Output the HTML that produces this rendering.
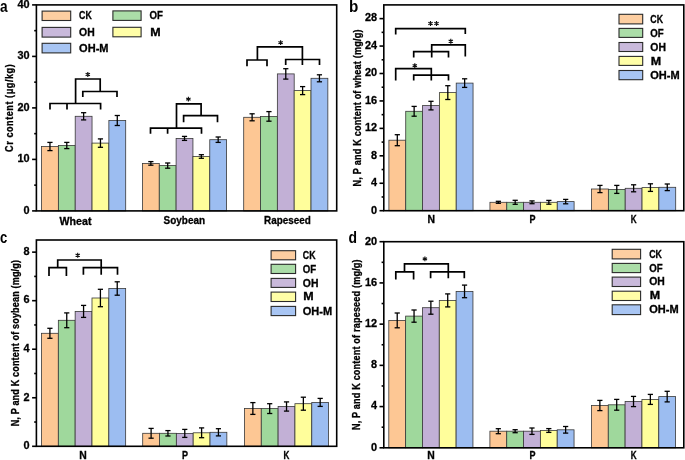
<!DOCTYPE html><html><head><meta charset="utf-8"><style>html,body{margin:0;padding:0;background:#fff;}svg{display:block;will-change:transform;}text{font-family:"Liberation Sans",sans-serif;font-weight:bold;fill:#000;stroke:#000;stroke-width:0.3px;}</style></head><body>
<svg width="685" height="460" viewBox="0 0 685 460">
<rect width="685" height="460" fill="#fff"/>
<g>
<rect x="41.55" y="146.50" width="16.83" height="64.40" fill="#FDC794" stroke="#383838" stroke-width="0.8"/>
<rect x="58.38" y="145.50" width="16.83" height="65.40" fill="#9FD89C" stroke="#383838" stroke-width="0.8"/>
<rect x="75.21" y="116.30" width="16.83" height="94.60" fill="#C2B0D6" stroke="#383838" stroke-width="0.8"/>
<rect x="92.04" y="143.10" width="16.83" height="67.80" fill="#FFFE9B" stroke="#383838" stroke-width="0.8"/>
<rect x="108.87" y="120.50" width="16.83" height="90.40" fill="#9CBDF1" stroke="#383838" stroke-width="0.8"/>
<line x1="49.96" y1="142.40" x2="49.96" y2="150.60" stroke="#000" stroke-width="1.3"/>
<line x1="47.36" y1="142.40" x2="52.56" y2="142.40" stroke="#000" stroke-width="1.3"/>
<line x1="47.36" y1="150.60" x2="52.56" y2="150.60" stroke="#000" stroke-width="1.3"/>
<line x1="66.79" y1="142.40" x2="66.79" y2="148.60" stroke="#000" stroke-width="1.3"/>
<line x1="64.19" y1="142.40" x2="69.39" y2="142.40" stroke="#000" stroke-width="1.3"/>
<line x1="64.19" y1="148.60" x2="69.39" y2="148.60" stroke="#000" stroke-width="1.3"/>
<line x1="83.62" y1="112.70" x2="83.62" y2="119.90" stroke="#000" stroke-width="1.3"/>
<line x1="81.03" y1="112.70" x2="86.22" y2="112.70" stroke="#000" stroke-width="1.3"/>
<line x1="81.03" y1="119.90" x2="86.22" y2="119.90" stroke="#000" stroke-width="1.3"/>
<line x1="100.45" y1="138.90" x2="100.45" y2="147.30" stroke="#000" stroke-width="1.3"/>
<line x1="97.85" y1="138.90" x2="103.05" y2="138.90" stroke="#000" stroke-width="1.3"/>
<line x1="97.85" y1="147.30" x2="103.05" y2="147.30" stroke="#000" stroke-width="1.3"/>
<line x1="117.28" y1="115.50" x2="117.28" y2="125.50" stroke="#000" stroke-width="1.3"/>
<line x1="114.69" y1="115.50" x2="119.88" y2="115.50" stroke="#000" stroke-width="1.3"/>
<line x1="114.69" y1="125.50" x2="119.88" y2="125.50" stroke="#000" stroke-width="1.3"/>
<rect x="142.45" y="163.40" width="16.83" height="47.50" fill="#FDC794" stroke="#383838" stroke-width="0.8"/>
<rect x="159.28" y="165.60" width="16.83" height="45.30" fill="#9FD89C" stroke="#383838" stroke-width="0.8"/>
<rect x="176.11" y="138.40" width="16.83" height="72.50" fill="#C2B0D6" stroke="#383838" stroke-width="0.8"/>
<rect x="192.94" y="156.50" width="16.83" height="54.40" fill="#FFFE9B" stroke="#383838" stroke-width="0.8"/>
<rect x="209.77" y="139.70" width="16.83" height="71.20" fill="#9CBDF1" stroke="#383838" stroke-width="0.8"/>
<line x1="150.86" y1="161.60" x2="150.86" y2="165.20" stroke="#000" stroke-width="1.3"/>
<line x1="148.26" y1="161.60" x2="153.46" y2="161.60" stroke="#000" stroke-width="1.3"/>
<line x1="148.26" y1="165.20" x2="153.46" y2="165.20" stroke="#000" stroke-width="1.3"/>
<line x1="167.69" y1="163.00" x2="167.69" y2="168.20" stroke="#000" stroke-width="1.3"/>
<line x1="165.09" y1="163.00" x2="170.29" y2="163.00" stroke="#000" stroke-width="1.3"/>
<line x1="165.09" y1="168.20" x2="170.29" y2="168.20" stroke="#000" stroke-width="1.3"/>
<line x1="184.52" y1="136.40" x2="184.52" y2="140.40" stroke="#000" stroke-width="1.3"/>
<line x1="181.92" y1="136.40" x2="187.12" y2="136.40" stroke="#000" stroke-width="1.3"/>
<line x1="181.92" y1="140.40" x2="187.12" y2="140.40" stroke="#000" stroke-width="1.3"/>
<line x1="201.35" y1="154.70" x2="201.35" y2="158.30" stroke="#000" stroke-width="1.3"/>
<line x1="198.75" y1="154.70" x2="203.95" y2="154.70" stroke="#000" stroke-width="1.3"/>
<line x1="198.75" y1="158.30" x2="203.95" y2="158.30" stroke="#000" stroke-width="1.3"/>
<line x1="218.18" y1="137.00" x2="218.18" y2="142.40" stroke="#000" stroke-width="1.3"/>
<line x1="215.58" y1="137.00" x2="220.78" y2="137.00" stroke="#000" stroke-width="1.3"/>
<line x1="215.58" y1="142.40" x2="220.78" y2="142.40" stroke="#000" stroke-width="1.3"/>
<rect x="243.70" y="117.30" width="16.83" height="93.60" fill="#FDC794" stroke="#383838" stroke-width="0.8"/>
<rect x="260.53" y="116.40" width="16.83" height="94.50" fill="#9FD89C" stroke="#383838" stroke-width="0.8"/>
<rect x="277.36" y="73.90" width="16.83" height="137.00" fill="#C2B0D6" stroke="#383838" stroke-width="0.8"/>
<rect x="294.19" y="90.60" width="16.83" height="120.30" fill="#FFFE9B" stroke="#383838" stroke-width="0.8"/>
<rect x="311.02" y="78.30" width="16.83" height="132.60" fill="#9CBDF1" stroke="#383838" stroke-width="0.8"/>
<line x1="252.11" y1="113.80" x2="252.11" y2="120.80" stroke="#000" stroke-width="1.3"/>
<line x1="249.51" y1="113.80" x2="254.71" y2="113.80" stroke="#000" stroke-width="1.3"/>
<line x1="249.51" y1="120.80" x2="254.71" y2="120.80" stroke="#000" stroke-width="1.3"/>
<line x1="268.94" y1="111.60" x2="268.94" y2="121.20" stroke="#000" stroke-width="1.3"/>
<line x1="266.34" y1="111.60" x2="271.55" y2="111.60" stroke="#000" stroke-width="1.3"/>
<line x1="266.34" y1="121.20" x2="271.55" y2="121.20" stroke="#000" stroke-width="1.3"/>
<line x1="285.78" y1="68.70" x2="285.78" y2="79.10" stroke="#000" stroke-width="1.3"/>
<line x1="283.18" y1="68.70" x2="288.38" y2="68.70" stroke="#000" stroke-width="1.3"/>
<line x1="283.18" y1="79.10" x2="288.38" y2="79.10" stroke="#000" stroke-width="1.3"/>
<line x1="302.61" y1="86.60" x2="302.61" y2="94.60" stroke="#000" stroke-width="1.3"/>
<line x1="300.00" y1="86.60" x2="305.21" y2="86.60" stroke="#000" stroke-width="1.3"/>
<line x1="300.00" y1="94.60" x2="305.21" y2="94.60" stroke="#000" stroke-width="1.3"/>
<line x1="319.44" y1="74.80" x2="319.44" y2="81.80" stroke="#000" stroke-width="1.3"/>
<line x1="316.83" y1="74.80" x2="322.04" y2="74.80" stroke="#000" stroke-width="1.3"/>
<line x1="316.83" y1="81.80" x2="322.04" y2="81.80" stroke="#000" stroke-width="1.3"/>
<rect x="36.40" y="4.90" width="300.30" height="206.00" fill="none" stroke="#000" stroke-width="1.6"/>
<line x1="32.10" y1="210.90" x2="36.40" y2="210.90" stroke="#000" stroke-width="1.6"/>
<text x="29.60" y="213.70" font-size="10.9" text-anchor="end">0</text>
<line x1="32.10" y1="159.40" x2="36.40" y2="159.40" stroke="#000" stroke-width="1.6"/>
<text x="29.60" y="162.20" font-size="10.9" text-anchor="end">10</text>
<line x1="32.10" y1="107.90" x2="36.40" y2="107.90" stroke="#000" stroke-width="1.6"/>
<text x="29.60" y="110.70" font-size="10.9" text-anchor="end">20</text>
<line x1="32.10" y1="56.40" x2="36.40" y2="56.40" stroke="#000" stroke-width="1.6"/>
<text x="29.60" y="59.20" font-size="10.9" text-anchor="end">30</text>
<line x1="32.10" y1="4.90" x2="36.40" y2="4.90" stroke="#000" stroke-width="1.6"/>
<text x="29.60" y="7.70" font-size="10.9" text-anchor="end">40</text>
<line x1="34.20" y1="185.15" x2="36.40" y2="185.15" stroke="#000" stroke-width="1.6"/>
<line x1="34.20" y1="133.65" x2="36.40" y2="133.65" stroke="#000" stroke-width="1.6"/>
<line x1="34.20" y1="82.15" x2="36.40" y2="82.15" stroke="#000" stroke-width="1.6"/>
<line x1="34.20" y1="30.65" x2="36.40" y2="30.65" stroke="#000" stroke-width="1.6"/>
<path d="M50,109.6 V103.5 H100.6 V109.6 M67,103.5 V109.6 M75.6,103.5 V79 H100.2 V91.5 M82.8,97 V91.5 H117 V97" fill="none" stroke="#000" stroke-width="1.7" stroke-linecap="butt" stroke-linejoin="miter"/>
<path d="M87.80,72.05 V76.95 M85.64,73.28 L89.96,75.72 M85.64,75.72 L89.96,73.28 " stroke="#111" stroke-width="1.15" fill="none"/>
<path d="M150.5,133.8 V128.1 H201.5 V133.8 M167.6,128.1 V133.8 M176.5,128.1 V103.9 H201.1 V115.7 M183.6,122.3 V115.7 H217.5 V122.3" fill="none" stroke="#000" stroke-width="1.7" stroke-linecap="butt" stroke-linejoin="miter"/>
<path d="M188.40,96.65 V101.55 M186.24,97.88 L190.56,100.32 M186.24,100.32 L190.56,97.88 " stroke="#111" stroke-width="1.15" fill="none"/>
<path d="M247,66.3 V60 H267 V66.3 M257.4,60 V46.8 H302.4 V65 M285.7,65 V59.5 H319.5 V65" fill="none" stroke="#000" stroke-width="1.7" stroke-linecap="butt" stroke-linejoin="miter"/>
<path d="M280.60,40.15 V45.05 M278.44,41.38 L282.76,43.83 M278.44,43.83 L282.76,41.38 " stroke="#111" stroke-width="1.15" fill="none"/>
<rect x="42.10" y="11.10" width="28.60" height="9.40" fill="#FDCEA1" stroke="#2a2a2a" stroke-width="1.1"/>
<text x="79.10" y="19.40" font-size="10.4" text-anchor="start" textLength="12.70" lengthAdjust="spacingAndGlyphs">CK</text>
<rect x="42.10" y="27.40" width="28.60" height="9.70" fill="#C9B9DB" stroke="#2a2a2a" stroke-width="1.1"/>
<text x="79.10" y="35.85" font-size="10.4" text-anchor="start" textLength="15.60" lengthAdjust="spacingAndGlyphs">OH</text>
<rect x="42.10" y="43.30" width="28.60" height="9.60" fill="#A8C5F3" stroke="#2a2a2a" stroke-width="1.1"/>
<text x="79.10" y="51.70" font-size="10.4" text-anchor="start" textLength="29.40" lengthAdjust="spacingAndGlyphs">OH-M</text>
<rect x="112.9" y="10.9" width="28.2" height="9.5" fill="#ABDDA8" stroke="#2a2a2a" stroke-width="1.1"/>
<text x="149.60" y="19.25" font-size="10.4" text-anchor="start" textLength="13.40" lengthAdjust="spacingAndGlyphs">OF</text>
<rect x="112.9" y="27.3" width="28.2" height="9.5" fill="#FFFEA7" stroke="#2a2a2a" stroke-width="1.1"/>
<text x="150.20" y="35.65" font-size="10.4" text-anchor="start" textLength="10.40" lengthAdjust="spacingAndGlyphs">M</text>
<text x="75.50" y="224.80" font-size="10.4" text-anchor="middle" textLength="31.90" lengthAdjust="spacingAndGlyphs">Wheat</text>
<text x="184.30" y="223.90" font-size="10.4" text-anchor="middle" textLength="41.50" lengthAdjust="spacingAndGlyphs">Soybean</text>
<text x="287.40" y="223.90" font-size="10.4" text-anchor="middle" textLength="46.70" lengthAdjust="spacingAndGlyphs">Rapeseed</text>
<text transform="translate(13.2,108.1) rotate(-90) scale(0.87,1)" font-size="10.4" text-anchor="middle" textLength="100.69" lengthAdjust="spacing">Cr content (μg/kg)</text>
<text x="0.00" y="11.80" font-size="16.4" text-anchor="start" textLength="7.60" lengthAdjust="spacingAndGlyphs" style="stroke-width:0">a</text>
<rect x="388.90" y="140.20" width="16.83" height="70.50" fill="#FDC794" stroke="#383838" stroke-width="0.8"/>
<rect x="405.73" y="111.30" width="16.83" height="99.40" fill="#9FD89C" stroke="#383838" stroke-width="0.8"/>
<rect x="422.56" y="105.60" width="16.83" height="105.10" fill="#C2B0D6" stroke="#383838" stroke-width="0.8"/>
<rect x="439.39" y="92.60" width="16.83" height="118.10" fill="#FFFE9B" stroke="#383838" stroke-width="0.8"/>
<rect x="456.22" y="83.10" width="16.83" height="127.60" fill="#9CBDF1" stroke="#383838" stroke-width="0.8"/>
<line x1="397.31" y1="134.70" x2="397.31" y2="145.70" stroke="#000" stroke-width="1.3"/>
<line x1="394.71" y1="134.70" x2="399.92" y2="134.70" stroke="#000" stroke-width="1.3"/>
<line x1="394.71" y1="145.70" x2="399.92" y2="145.70" stroke="#000" stroke-width="1.3"/>
<line x1="414.14" y1="106.40" x2="414.14" y2="116.20" stroke="#000" stroke-width="1.3"/>
<line x1="411.54" y1="106.40" x2="416.75" y2="106.40" stroke="#000" stroke-width="1.3"/>
<line x1="411.54" y1="116.20" x2="416.75" y2="116.20" stroke="#000" stroke-width="1.3"/>
<line x1="430.97" y1="101.30" x2="430.97" y2="109.90" stroke="#000" stroke-width="1.3"/>
<line x1="428.37" y1="101.30" x2="433.57" y2="101.30" stroke="#000" stroke-width="1.3"/>
<line x1="428.37" y1="109.90" x2="433.57" y2="109.90" stroke="#000" stroke-width="1.3"/>
<line x1="447.81" y1="85.70" x2="447.81" y2="99.50" stroke="#000" stroke-width="1.3"/>
<line x1="445.20" y1="85.70" x2="450.41" y2="85.70" stroke="#000" stroke-width="1.3"/>
<line x1="445.20" y1="99.50" x2="450.41" y2="99.50" stroke="#000" stroke-width="1.3"/>
<line x1="464.63" y1="78.80" x2="464.63" y2="87.40" stroke="#000" stroke-width="1.3"/>
<line x1="462.03" y1="78.80" x2="467.24" y2="78.80" stroke="#000" stroke-width="1.3"/>
<line x1="462.03" y1="87.40" x2="467.24" y2="87.40" stroke="#000" stroke-width="1.3"/>
<rect x="489.95" y="202.30" width="16.83" height="8.40" fill="#FDC794" stroke="#383838" stroke-width="0.8"/>
<rect x="506.78" y="202.30" width="16.83" height="8.40" fill="#9FD89C" stroke="#383838" stroke-width="0.8"/>
<rect x="523.61" y="202.30" width="16.83" height="8.40" fill="#C2B0D6" stroke="#383838" stroke-width="0.8"/>
<rect x="540.44" y="202.30" width="16.83" height="8.40" fill="#FFFE9B" stroke="#383838" stroke-width="0.8"/>
<rect x="557.27" y="201.60" width="16.83" height="9.10" fill="#9CBDF1" stroke="#383838" stroke-width="0.8"/>
<line x1="498.37" y1="201.30" x2="498.37" y2="203.30" stroke="#000" stroke-width="1.3"/>
<line x1="495.76" y1="201.30" x2="500.97" y2="201.30" stroke="#000" stroke-width="1.3"/>
<line x1="495.76" y1="203.30" x2="500.97" y2="203.30" stroke="#000" stroke-width="1.3"/>
<line x1="515.19" y1="200.30" x2="515.19" y2="204.30" stroke="#000" stroke-width="1.3"/>
<line x1="512.59" y1="200.30" x2="517.79" y2="200.30" stroke="#000" stroke-width="1.3"/>
<line x1="512.59" y1="204.30" x2="517.79" y2="204.30" stroke="#000" stroke-width="1.3"/>
<line x1="532.02" y1="200.90" x2="532.02" y2="203.70" stroke="#000" stroke-width="1.3"/>
<line x1="529.42" y1="200.90" x2="534.62" y2="200.90" stroke="#000" stroke-width="1.3"/>
<line x1="529.42" y1="203.70" x2="534.62" y2="203.70" stroke="#000" stroke-width="1.3"/>
<line x1="548.85" y1="200.40" x2="548.85" y2="204.20" stroke="#000" stroke-width="1.3"/>
<line x1="546.25" y1="200.40" x2="551.45" y2="200.40" stroke="#000" stroke-width="1.3"/>
<line x1="546.25" y1="204.20" x2="551.45" y2="204.20" stroke="#000" stroke-width="1.3"/>
<line x1="565.68" y1="199.40" x2="565.68" y2="203.80" stroke="#000" stroke-width="1.3"/>
<line x1="563.08" y1="199.40" x2="568.28" y2="199.40" stroke="#000" stroke-width="1.3"/>
<line x1="563.08" y1="203.80" x2="568.28" y2="203.80" stroke="#000" stroke-width="1.3"/>
<rect x="591.55" y="189.00" width="16.83" height="21.70" fill="#FDC794" stroke="#383838" stroke-width="0.8"/>
<rect x="608.38" y="189.40" width="16.83" height="21.30" fill="#9FD89C" stroke="#383838" stroke-width="0.8"/>
<rect x="625.21" y="188.30" width="16.83" height="22.40" fill="#C2B0D6" stroke="#383838" stroke-width="0.8"/>
<rect x="642.04" y="187.60" width="16.83" height="23.10" fill="#FFFE9B" stroke="#383838" stroke-width="0.8"/>
<rect x="658.87" y="187.30" width="16.83" height="23.40" fill="#9CBDF1" stroke="#383838" stroke-width="0.8"/>
<line x1="599.96" y1="185.40" x2="599.96" y2="192.60" stroke="#000" stroke-width="1.3"/>
<line x1="597.36" y1="185.40" x2="602.56" y2="185.40" stroke="#000" stroke-width="1.3"/>
<line x1="597.36" y1="192.60" x2="602.56" y2="192.60" stroke="#000" stroke-width="1.3"/>
<line x1="616.79" y1="185.40" x2="616.79" y2="193.40" stroke="#000" stroke-width="1.3"/>
<line x1="614.19" y1="185.40" x2="619.39" y2="185.40" stroke="#000" stroke-width="1.3"/>
<line x1="614.19" y1="193.40" x2="619.39" y2="193.40" stroke="#000" stroke-width="1.3"/>
<line x1="633.62" y1="184.80" x2="633.62" y2="191.80" stroke="#000" stroke-width="1.3"/>
<line x1="631.02" y1="184.80" x2="636.22" y2="184.80" stroke="#000" stroke-width="1.3"/>
<line x1="631.02" y1="191.80" x2="636.22" y2="191.80" stroke="#000" stroke-width="1.3"/>
<line x1="650.45" y1="183.80" x2="650.45" y2="191.40" stroke="#000" stroke-width="1.3"/>
<line x1="647.85" y1="183.80" x2="653.05" y2="183.80" stroke="#000" stroke-width="1.3"/>
<line x1="647.85" y1="191.40" x2="653.05" y2="191.40" stroke="#000" stroke-width="1.3"/>
<line x1="667.28" y1="184.00" x2="667.28" y2="190.60" stroke="#000" stroke-width="1.3"/>
<line x1="664.68" y1="184.00" x2="669.88" y2="184.00" stroke="#000" stroke-width="1.3"/>
<line x1="664.68" y1="190.60" x2="669.88" y2="190.60" stroke="#000" stroke-width="1.3"/>
<rect x="383.80" y="4.90" width="300.00" height="205.80" fill="none" stroke="#000" stroke-width="1.6"/>
<line x1="379.50" y1="210.70" x2="383.80" y2="210.70" stroke="#000" stroke-width="1.6"/>
<text x="377.00" y="213.50" font-size="10.9" text-anchor="end">0</text>
<line x1="379.50" y1="183.26" x2="383.80" y2="183.26" stroke="#000" stroke-width="1.6"/>
<text x="377.00" y="186.06" font-size="10.9" text-anchor="end">4</text>
<line x1="379.50" y1="155.82" x2="383.80" y2="155.82" stroke="#000" stroke-width="1.6"/>
<text x="377.00" y="158.62" font-size="10.9" text-anchor="end">8</text>
<line x1="379.50" y1="128.38" x2="383.80" y2="128.38" stroke="#000" stroke-width="1.6"/>
<text x="377.00" y="131.18" font-size="10.9" text-anchor="end">12</text>
<line x1="379.50" y1="100.94" x2="383.80" y2="100.94" stroke="#000" stroke-width="1.6"/>
<text x="377.00" y="103.74" font-size="10.9" text-anchor="end">16</text>
<line x1="379.50" y1="73.50" x2="383.80" y2="73.50" stroke="#000" stroke-width="1.6"/>
<text x="377.00" y="76.30" font-size="10.9" text-anchor="end">20</text>
<line x1="379.50" y1="46.06" x2="383.80" y2="46.06" stroke="#000" stroke-width="1.6"/>
<text x="377.00" y="48.86" font-size="10.9" text-anchor="end">24</text>
<line x1="379.50" y1="18.62" x2="383.80" y2="18.62" stroke="#000" stroke-width="1.6"/>
<text x="377.00" y="21.42" font-size="10.9" text-anchor="end">28</text>
<line x1="381.60" y1="196.98" x2="383.80" y2="196.98" stroke="#000" stroke-width="1.6"/>
<line x1="381.60" y1="169.54" x2="383.80" y2="169.54" stroke="#000" stroke-width="1.6"/>
<line x1="381.60" y1="142.10" x2="383.80" y2="142.10" stroke="#000" stroke-width="1.6"/>
<line x1="381.60" y1="114.66" x2="383.80" y2="114.66" stroke="#000" stroke-width="1.6"/>
<line x1="381.60" y1="87.22" x2="383.80" y2="87.22" stroke="#000" stroke-width="1.6"/>
<line x1="381.60" y1="59.78" x2="383.80" y2="59.78" stroke="#000" stroke-width="1.6"/>
<line x1="381.60" y1="32.34" x2="383.80" y2="32.34" stroke="#000" stroke-width="1.6"/>
<path d="M395.7,34.5 V28.6 H465.3 V34" fill="none" stroke="#000" stroke-width="1.7" stroke-linecap="butt" stroke-linejoin="miter"/>
<path d="M430.50,21.05 V25.95 M428.34,22.27 L432.66,24.73 M428.34,24.73 L432.66,22.27 " stroke="#111" stroke-width="1.15" fill="none"/>
<path d="M436.50,21.05 V25.95 M434.34,22.27 L438.66,24.73 M434.34,24.73 L438.66,22.27 " stroke="#111" stroke-width="1.15" fill="none"/>
<path d="M431.7,57.4 V44.8 H465.3 V56.6 M413.7,57.4 V51.7 H448.5 V57.4" fill="none" stroke="#000" stroke-width="1.7" stroke-linecap="butt" stroke-linejoin="miter"/>
<path d="M450.80,38.85 V43.75 M448.64,40.07 L452.96,42.52 M448.64,42.52 L452.96,40.07 " stroke="#111" stroke-width="1.15" fill="none"/>
<path d="M395.7,80.5 V68.7 H431.3 V80.5 M413.7,80.5 V75.2 H448.5 V80.5" fill="none" stroke="#000" stroke-width="1.7" stroke-linecap="butt" stroke-linejoin="miter"/>
<path d="M414.80,63.15 V68.05 M412.64,64.38 L416.96,66.82 M412.64,66.82 L416.96,64.38 " stroke="#111" stroke-width="1.15" fill="none"/>
<rect x="619.00" y="14.30" width="23.70" height="9.60" fill="#FDCEA1" stroke="#2a2a2a" stroke-width="1.1"/>
<text x="650.30" y="22.70" font-size="10.4" text-anchor="start" textLength="12.70" lengthAdjust="spacingAndGlyphs">CK</text>
<rect x="619.00" y="28.40" width="23.70" height="9.00" fill="#ABDDA8" stroke="#2a2a2a" stroke-width="1.1"/>
<text x="650.30" y="36.50" font-size="10.4" text-anchor="start" textLength="13.40" lengthAdjust="spacingAndGlyphs">OF</text>
<rect x="619.00" y="42.50" width="23.70" height="9.00" fill="#C9B9DB" stroke="#2a2a2a" stroke-width="1.1"/>
<text x="650.30" y="50.60" font-size="10.4" text-anchor="start" textLength="15.60" lengthAdjust="spacingAndGlyphs">OH</text>
<rect x="619.00" y="56.40" width="23.70" height="9.00" fill="#FFFEA7" stroke="#2a2a2a" stroke-width="1.1"/>
<text x="650.80" y="64.50" font-size="10.4" text-anchor="start" textLength="10.40" lengthAdjust="spacingAndGlyphs">M</text>
<rect x="619.00" y="70.50" width="23.70" height="9.20" fill="#A8C5F3" stroke="#2a2a2a" stroke-width="1.1"/>
<text x="650.30" y="78.70" font-size="10.4" text-anchor="start" textLength="29.40" lengthAdjust="spacingAndGlyphs">OH-M</text>
<text x="431.20" y="222.60" font-size="10.4" text-anchor="middle">N</text>
<text x="532.50" y="222.60" font-size="10.4" text-anchor="middle" textLength="6.00" lengthAdjust="spacingAndGlyphs">P</text>
<text x="633.70" y="222.60" font-size="10.4" text-anchor="middle" textLength="5.90" lengthAdjust="spacingAndGlyphs">K</text>
<text transform="translate(360.6,107.9) rotate(-90) scale(0.87,1)" font-size="10.4" text-anchor="middle" textLength="180.46" lengthAdjust="spacing">N, P and K content of wheat (mg/g)</text>
<text x="349.00" y="11.80" font-size="16.4" text-anchor="start" textLength="9.30" lengthAdjust="spacingAndGlyphs" style="stroke-width:0">b</text>
<rect x="41.50" y="333.30" width="16.83" height="113.00" fill="#FDC794" stroke="#383838" stroke-width="0.8"/>
<rect x="58.33" y="320.30" width="16.83" height="126.00" fill="#9FD89C" stroke="#383838" stroke-width="0.8"/>
<rect x="75.16" y="311.40" width="16.83" height="134.90" fill="#C2B0D6" stroke="#383838" stroke-width="0.8"/>
<rect x="91.99" y="298.00" width="16.83" height="148.30" fill="#FFFE9B" stroke="#383838" stroke-width="0.8"/>
<rect x="108.82" y="288.50" width="16.83" height="157.80" fill="#9CBDF1" stroke="#383838" stroke-width="0.8"/>
<line x1="49.91" y1="328.30" x2="49.91" y2="338.30" stroke="#000" stroke-width="1.3"/>
<line x1="47.31" y1="328.30" x2="52.52" y2="328.30" stroke="#000" stroke-width="1.3"/>
<line x1="47.31" y1="338.30" x2="52.52" y2="338.30" stroke="#000" stroke-width="1.3"/>
<line x1="66.75" y1="312.90" x2="66.75" y2="327.70" stroke="#000" stroke-width="1.3"/>
<line x1="64.15" y1="312.90" x2="69.34" y2="312.90" stroke="#000" stroke-width="1.3"/>
<line x1="64.15" y1="327.70" x2="69.34" y2="327.70" stroke="#000" stroke-width="1.3"/>
<line x1="83.57" y1="305.40" x2="83.57" y2="317.40" stroke="#000" stroke-width="1.3"/>
<line x1="80.97" y1="305.40" x2="86.17" y2="305.40" stroke="#000" stroke-width="1.3"/>
<line x1="80.97" y1="317.40" x2="86.17" y2="317.40" stroke="#000" stroke-width="1.3"/>
<line x1="100.41" y1="289.30" x2="100.41" y2="306.70" stroke="#000" stroke-width="1.3"/>
<line x1="97.81" y1="289.30" x2="103.00" y2="289.30" stroke="#000" stroke-width="1.3"/>
<line x1="97.81" y1="306.70" x2="103.00" y2="306.70" stroke="#000" stroke-width="1.3"/>
<line x1="117.23" y1="281.80" x2="117.23" y2="295.20" stroke="#000" stroke-width="1.3"/>
<line x1="114.63" y1="281.80" x2="119.83" y2="281.80" stroke="#000" stroke-width="1.3"/>
<line x1="114.63" y1="295.20" x2="119.83" y2="295.20" stroke="#000" stroke-width="1.3"/>
<rect x="142.70" y="433.30" width="16.83" height="13.00" fill="#FDC794" stroke="#383838" stroke-width="0.8"/>
<rect x="159.53" y="433.30" width="16.83" height="13.00" fill="#9FD89C" stroke="#383838" stroke-width="0.8"/>
<rect x="176.36" y="433.40" width="16.83" height="12.90" fill="#C2B0D6" stroke="#383838" stroke-width="0.8"/>
<rect x="193.19" y="432.80" width="16.83" height="13.50" fill="#FFFE9B" stroke="#383838" stroke-width="0.8"/>
<rect x="210.02" y="432.30" width="16.83" height="14.00" fill="#9CBDF1" stroke="#383838" stroke-width="0.8"/>
<line x1="151.11" y1="428.40" x2="151.11" y2="438.20" stroke="#000" stroke-width="1.3"/>
<line x1="148.51" y1="428.40" x2="153.71" y2="428.40" stroke="#000" stroke-width="1.3"/>
<line x1="148.51" y1="438.20" x2="153.71" y2="438.20" stroke="#000" stroke-width="1.3"/>
<line x1="167.94" y1="430.60" x2="167.94" y2="436.00" stroke="#000" stroke-width="1.3"/>
<line x1="165.34" y1="430.60" x2="170.54" y2="430.60" stroke="#000" stroke-width="1.3"/>
<line x1="165.34" y1="436.00" x2="170.54" y2="436.00" stroke="#000" stroke-width="1.3"/>
<line x1="184.77" y1="429.40" x2="184.77" y2="437.40" stroke="#000" stroke-width="1.3"/>
<line x1="182.17" y1="429.40" x2="187.37" y2="429.40" stroke="#000" stroke-width="1.3"/>
<line x1="182.17" y1="437.40" x2="187.37" y2="437.40" stroke="#000" stroke-width="1.3"/>
<line x1="201.60" y1="427.90" x2="201.60" y2="437.70" stroke="#000" stroke-width="1.3"/>
<line x1="199.00" y1="427.90" x2="204.20" y2="427.90" stroke="#000" stroke-width="1.3"/>
<line x1="199.00" y1="437.70" x2="204.20" y2="437.70" stroke="#000" stroke-width="1.3"/>
<line x1="218.43" y1="428.70" x2="218.43" y2="435.90" stroke="#000" stroke-width="1.3"/>
<line x1="215.83" y1="428.70" x2="221.03" y2="428.70" stroke="#000" stroke-width="1.3"/>
<line x1="215.83" y1="435.90" x2="221.03" y2="435.90" stroke="#000" stroke-width="1.3"/>
<rect x="244.45" y="408.50" width="16.83" height="37.80" fill="#FDC794" stroke="#383838" stroke-width="0.8"/>
<rect x="261.28" y="408.60" width="16.83" height="37.70" fill="#9FD89C" stroke="#383838" stroke-width="0.8"/>
<rect x="278.11" y="406.50" width="16.83" height="39.80" fill="#C2B0D6" stroke="#383838" stroke-width="0.8"/>
<rect x="294.94" y="403.70" width="16.83" height="42.60" fill="#FFFE9B" stroke="#383838" stroke-width="0.8"/>
<rect x="311.77" y="402.40" width="16.83" height="43.90" fill="#9CBDF1" stroke="#383838" stroke-width="0.8"/>
<line x1="252.86" y1="402.60" x2="252.86" y2="414.40" stroke="#000" stroke-width="1.3"/>
<line x1="250.26" y1="402.60" x2="255.46" y2="402.60" stroke="#000" stroke-width="1.3"/>
<line x1="250.26" y1="414.40" x2="255.46" y2="414.40" stroke="#000" stroke-width="1.3"/>
<line x1="269.69" y1="403.70" x2="269.69" y2="413.50" stroke="#000" stroke-width="1.3"/>
<line x1="267.09" y1="403.70" x2="272.30" y2="403.70" stroke="#000" stroke-width="1.3"/>
<line x1="267.09" y1="413.50" x2="272.30" y2="413.50" stroke="#000" stroke-width="1.3"/>
<line x1="286.53" y1="401.90" x2="286.53" y2="411.10" stroke="#000" stroke-width="1.3"/>
<line x1="283.93" y1="401.90" x2="289.13" y2="401.90" stroke="#000" stroke-width="1.3"/>
<line x1="283.93" y1="411.10" x2="289.13" y2="411.10" stroke="#000" stroke-width="1.3"/>
<line x1="303.36" y1="397.20" x2="303.36" y2="410.20" stroke="#000" stroke-width="1.3"/>
<line x1="300.75" y1="397.20" x2="305.96" y2="397.20" stroke="#000" stroke-width="1.3"/>
<line x1="300.75" y1="410.20" x2="305.96" y2="410.20" stroke="#000" stroke-width="1.3"/>
<line x1="320.19" y1="398.40" x2="320.19" y2="406.40" stroke="#000" stroke-width="1.3"/>
<line x1="317.58" y1="398.40" x2="322.79" y2="398.40" stroke="#000" stroke-width="1.3"/>
<line x1="317.58" y1="406.40" x2="322.79" y2="406.40" stroke="#000" stroke-width="1.3"/>
<rect x="36.40" y="240.00" width="300.30" height="206.30" fill="none" stroke="#000" stroke-width="1.6"/>
<line x1="32.10" y1="446.30" x2="36.40" y2="446.30" stroke="#000" stroke-width="1.6"/>
<text x="29.60" y="449.10" font-size="10.9" text-anchor="end">0</text>
<line x1="32.10" y1="397.76" x2="36.40" y2="397.76" stroke="#000" stroke-width="1.6"/>
<text x="29.60" y="400.56" font-size="10.9" text-anchor="end">2</text>
<line x1="32.10" y1="349.22" x2="36.40" y2="349.22" stroke="#000" stroke-width="1.6"/>
<text x="29.60" y="352.02" font-size="10.9" text-anchor="end">4</text>
<line x1="32.10" y1="300.68" x2="36.40" y2="300.68" stroke="#000" stroke-width="1.6"/>
<text x="29.60" y="303.48" font-size="10.9" text-anchor="end">6</text>
<line x1="32.10" y1="252.14" x2="36.40" y2="252.14" stroke="#000" stroke-width="1.6"/>
<text x="29.60" y="254.94" font-size="10.9" text-anchor="end">8</text>
<line x1="34.20" y1="422.03" x2="36.40" y2="422.03" stroke="#000" stroke-width="1.6"/>
<line x1="34.20" y1="373.49" x2="36.40" y2="373.49" stroke="#000" stroke-width="1.6"/>
<line x1="34.20" y1="324.95" x2="36.40" y2="324.95" stroke="#000" stroke-width="1.6"/>
<line x1="34.20" y1="276.41" x2="36.40" y2="276.41" stroke="#000" stroke-width="1.6"/>
<path d="M49,275.9 V267.6 H66.4 V275.9 M57.7,267.6 V260 H101.2 V274.8 M83.4,274.8 V267.6 H117.5 V274.8" fill="none" stroke="#000" stroke-width="1.7" stroke-linecap="butt" stroke-linejoin="miter"/>
<path d="M77.70,252.75 V257.65 M75.54,253.97 L79.86,256.43 M75.54,256.43 L79.86,253.97 " stroke="#111" stroke-width="1.15" fill="none"/>
<rect x="271.10" y="250.70" width="24.50" height="9.10" fill="#FDCEA1" stroke="#2a2a2a" stroke-width="1.1"/>
<text x="302.80" y="258.85" font-size="10.4" text-anchor="start" textLength="12.70" lengthAdjust="spacingAndGlyphs">CK</text>
<rect x="271.10" y="264.30" width="24.50" height="9.20" fill="#ABDDA8" stroke="#2a2a2a" stroke-width="1.1"/>
<text x="302.80" y="272.50" font-size="10.4" text-anchor="start" textLength="13.40" lengthAdjust="spacingAndGlyphs">OF</text>
<rect x="271.10" y="278.40" width="24.50" height="9.00" fill="#C9B9DB" stroke="#2a2a2a" stroke-width="1.1"/>
<text x="302.80" y="286.50" font-size="10.4" text-anchor="start" textLength="15.60" lengthAdjust="spacingAndGlyphs">OH</text>
<rect x="271.10" y="292.10" width="24.50" height="9.40" fill="#FFFEA7" stroke="#2a2a2a" stroke-width="1.1"/>
<text x="303.30" y="300.40" font-size="10.4" text-anchor="start" textLength="10.40" lengthAdjust="spacingAndGlyphs">M</text>
<rect x="271.10" y="306.40" width="24.50" height="9.20" fill="#A8C5F3" stroke="#2a2a2a" stroke-width="1.1"/>
<text x="302.80" y="314.60" font-size="10.4" text-anchor="start" textLength="29.40" lengthAdjust="spacingAndGlyphs">OH-M</text>
<text x="83.10" y="458.90" font-size="10.4" text-anchor="middle">N</text>
<text x="184.90" y="458.90" font-size="10.4" text-anchor="middle" textLength="6.00" lengthAdjust="spacingAndGlyphs">P</text>
<text x="286.50" y="458.90" font-size="10.4" text-anchor="middle" textLength="5.90" lengthAdjust="spacingAndGlyphs">K</text>
<text transform="translate(19.3,343.2) rotate(-90) scale(0.87,1)" font-size="10.4" text-anchor="middle" textLength="191.15" lengthAdjust="spacing">N, P and K content of soybean (mg/g)</text>
<text x="0.00" y="243.00" font-size="16.4" text-anchor="start" textLength="7.30" lengthAdjust="spacingAndGlyphs" style="stroke-width:0">c</text>
<rect x="388.80" y="320.40" width="16.83" height="127.40" fill="#FDC794" stroke="#383838" stroke-width="0.8"/>
<rect x="405.63" y="316.10" width="16.83" height="131.70" fill="#9FD89C" stroke="#383838" stroke-width="0.8"/>
<rect x="422.46" y="307.70" width="16.83" height="140.10" fill="#C2B0D6" stroke="#383838" stroke-width="0.8"/>
<rect x="439.29" y="300.40" width="16.83" height="147.40" fill="#FFFE9B" stroke="#383838" stroke-width="0.8"/>
<rect x="456.12" y="291.40" width="16.83" height="156.40" fill="#9CBDF1" stroke="#383838" stroke-width="0.8"/>
<line x1="397.22" y1="313.00" x2="397.22" y2="327.80" stroke="#000" stroke-width="1.3"/>
<line x1="394.62" y1="313.00" x2="399.82" y2="313.00" stroke="#000" stroke-width="1.3"/>
<line x1="394.62" y1="327.80" x2="399.82" y2="327.80" stroke="#000" stroke-width="1.3"/>
<line x1="414.05" y1="310.00" x2="414.05" y2="322.20" stroke="#000" stroke-width="1.3"/>
<line x1="411.44" y1="310.00" x2="416.65" y2="310.00" stroke="#000" stroke-width="1.3"/>
<line x1="411.44" y1="322.20" x2="416.65" y2="322.20" stroke="#000" stroke-width="1.3"/>
<line x1="430.88" y1="301.20" x2="430.88" y2="314.20" stroke="#000" stroke-width="1.3"/>
<line x1="428.28" y1="301.20" x2="433.48" y2="301.20" stroke="#000" stroke-width="1.3"/>
<line x1="428.28" y1="314.20" x2="433.48" y2="314.20" stroke="#000" stroke-width="1.3"/>
<line x1="447.71" y1="293.90" x2="447.71" y2="306.90" stroke="#000" stroke-width="1.3"/>
<line x1="445.11" y1="293.90" x2="450.31" y2="293.90" stroke="#000" stroke-width="1.3"/>
<line x1="445.11" y1="306.90" x2="450.31" y2="306.90" stroke="#000" stroke-width="1.3"/>
<line x1="464.54" y1="285.10" x2="464.54" y2="297.70" stroke="#000" stroke-width="1.3"/>
<line x1="461.94" y1="285.10" x2="467.14" y2="285.10" stroke="#000" stroke-width="1.3"/>
<line x1="461.94" y1="297.70" x2="467.14" y2="297.70" stroke="#000" stroke-width="1.3"/>
<rect x="489.90" y="431.20" width="16.83" height="16.60" fill="#FDC794" stroke="#383838" stroke-width="0.8"/>
<rect x="506.73" y="431.20" width="16.83" height="16.60" fill="#9FD89C" stroke="#383838" stroke-width="0.8"/>
<rect x="523.56" y="431.20" width="16.83" height="16.60" fill="#C2B0D6" stroke="#383838" stroke-width="0.8"/>
<rect x="540.39" y="430.50" width="16.83" height="17.30" fill="#FFFE9B" stroke="#383838" stroke-width="0.8"/>
<rect x="557.22" y="429.80" width="16.83" height="18.00" fill="#9CBDF1" stroke="#383838" stroke-width="0.8"/>
<line x1="498.31" y1="428.70" x2="498.31" y2="433.70" stroke="#000" stroke-width="1.3"/>
<line x1="495.71" y1="428.70" x2="500.92" y2="428.70" stroke="#000" stroke-width="1.3"/>
<line x1="495.71" y1="433.70" x2="500.92" y2="433.70" stroke="#000" stroke-width="1.3"/>
<line x1="515.14" y1="429.70" x2="515.14" y2="432.70" stroke="#000" stroke-width="1.3"/>
<line x1="512.54" y1="429.70" x2="517.75" y2="429.70" stroke="#000" stroke-width="1.3"/>
<line x1="512.54" y1="432.70" x2="517.75" y2="432.70" stroke="#000" stroke-width="1.3"/>
<line x1="531.97" y1="428.00" x2="531.97" y2="434.40" stroke="#000" stroke-width="1.3"/>
<line x1="529.37" y1="428.00" x2="534.57" y2="428.00" stroke="#000" stroke-width="1.3"/>
<line x1="529.37" y1="434.40" x2="534.57" y2="434.40" stroke="#000" stroke-width="1.3"/>
<line x1="548.80" y1="428.60" x2="548.80" y2="432.40" stroke="#000" stroke-width="1.3"/>
<line x1="546.20" y1="428.60" x2="551.40" y2="428.60" stroke="#000" stroke-width="1.3"/>
<line x1="546.20" y1="432.40" x2="551.40" y2="432.40" stroke="#000" stroke-width="1.3"/>
<line x1="565.63" y1="426.50" x2="565.63" y2="433.10" stroke="#000" stroke-width="1.3"/>
<line x1="563.03" y1="426.50" x2="568.24" y2="426.50" stroke="#000" stroke-width="1.3"/>
<line x1="563.03" y1="433.10" x2="568.24" y2="433.10" stroke="#000" stroke-width="1.3"/>
<rect x="591.45" y="405.50" width="16.83" height="42.30" fill="#FDC794" stroke="#383838" stroke-width="0.8"/>
<rect x="608.28" y="404.80" width="16.83" height="43.00" fill="#9FD89C" stroke="#383838" stroke-width="0.8"/>
<rect x="625.11" y="401.50" width="16.83" height="46.30" fill="#C2B0D6" stroke="#383838" stroke-width="0.8"/>
<rect x="641.94" y="399.40" width="16.83" height="48.40" fill="#FFFE9B" stroke="#383838" stroke-width="0.8"/>
<rect x="658.77" y="396.60" width="16.83" height="51.20" fill="#9CBDF1" stroke="#383838" stroke-width="0.8"/>
<line x1="599.87" y1="400.40" x2="599.87" y2="410.60" stroke="#000" stroke-width="1.3"/>
<line x1="597.26" y1="400.40" x2="602.47" y2="400.40" stroke="#000" stroke-width="1.3"/>
<line x1="597.26" y1="410.60" x2="602.47" y2="410.60" stroke="#000" stroke-width="1.3"/>
<line x1="616.70" y1="399.40" x2="616.70" y2="410.20" stroke="#000" stroke-width="1.3"/>
<line x1="614.10" y1="399.40" x2="619.30" y2="399.40" stroke="#000" stroke-width="1.3"/>
<line x1="614.10" y1="410.20" x2="619.30" y2="410.20" stroke="#000" stroke-width="1.3"/>
<line x1="633.52" y1="396.40" x2="633.52" y2="406.60" stroke="#000" stroke-width="1.3"/>
<line x1="630.92" y1="396.40" x2="636.12" y2="396.40" stroke="#000" stroke-width="1.3"/>
<line x1="630.92" y1="406.60" x2="636.12" y2="406.60" stroke="#000" stroke-width="1.3"/>
<line x1="650.36" y1="394.40" x2="650.36" y2="404.40" stroke="#000" stroke-width="1.3"/>
<line x1="647.75" y1="394.40" x2="652.96" y2="394.40" stroke="#000" stroke-width="1.3"/>
<line x1="647.75" y1="404.40" x2="652.96" y2="404.40" stroke="#000" stroke-width="1.3"/>
<line x1="667.18" y1="391.30" x2="667.18" y2="401.90" stroke="#000" stroke-width="1.3"/>
<line x1="664.58" y1="391.30" x2="669.78" y2="391.30" stroke="#000" stroke-width="1.3"/>
<line x1="664.58" y1="401.90" x2="669.78" y2="401.90" stroke="#000" stroke-width="1.3"/>
<rect x="383.80" y="241.70" width="300.00" height="206.10" fill="none" stroke="#000" stroke-width="1.6"/>
<line x1="379.50" y1="447.80" x2="383.80" y2="447.80" stroke="#000" stroke-width="1.6"/>
<text x="377.00" y="450.60" font-size="10.9" text-anchor="end">0</text>
<line x1="379.50" y1="406.58" x2="383.80" y2="406.58" stroke="#000" stroke-width="1.6"/>
<text x="377.00" y="409.38" font-size="10.9" text-anchor="end">4</text>
<line x1="379.50" y1="365.36" x2="383.80" y2="365.36" stroke="#000" stroke-width="1.6"/>
<text x="377.00" y="368.16" font-size="10.9" text-anchor="end">8</text>
<line x1="379.50" y1="324.14" x2="383.80" y2="324.14" stroke="#000" stroke-width="1.6"/>
<text x="377.00" y="326.94" font-size="10.9" text-anchor="end">12</text>
<line x1="379.50" y1="282.92" x2="383.80" y2="282.92" stroke="#000" stroke-width="1.6"/>
<text x="377.00" y="285.72" font-size="10.9" text-anchor="end">16</text>
<line x1="379.50" y1="241.70" x2="383.80" y2="241.70" stroke="#000" stroke-width="1.6"/>
<text x="377.00" y="244.50" font-size="10.9" text-anchor="end">20</text>
<line x1="381.60" y1="427.19" x2="383.80" y2="427.19" stroke="#000" stroke-width="1.6"/>
<line x1="381.60" y1="385.97" x2="383.80" y2="385.97" stroke="#000" stroke-width="1.6"/>
<line x1="381.60" y1="344.75" x2="383.80" y2="344.75" stroke="#000" stroke-width="1.6"/>
<line x1="381.60" y1="303.53" x2="383.80" y2="303.53" stroke="#000" stroke-width="1.6"/>
<line x1="381.60" y1="262.31" x2="383.80" y2="262.31" stroke="#000" stroke-width="1.6"/>
<path d="M395.8,279.6 V271.9 H413.6 V279.6 M404.5,271.9 V263.9 H448.3 V278.3 M430.6,278.3 V271.9 H464.3 V278.3" fill="none" stroke="#000" stroke-width="1.7" stroke-linecap="butt" stroke-linejoin="miter"/>
<path d="M424.90,256.45 V261.35 M422.74,257.67 L427.06,260.12 M422.74,260.12 L427.06,257.67 " stroke="#111" stroke-width="1.15" fill="none"/>
<rect x="612.20" y="249.30" width="28.40" height="9.60" fill="#FDCEA1" stroke="#2a2a2a" stroke-width="1.1"/>
<text x="649.20" y="257.70" font-size="10.4" text-anchor="start" textLength="12.70" lengthAdjust="spacingAndGlyphs">CK</text>
<rect x="612.20" y="263.40" width="28.40" height="9.20" fill="#ABDDA8" stroke="#2a2a2a" stroke-width="1.1"/>
<text x="649.20" y="271.60" font-size="10.4" text-anchor="start" textLength="13.40" lengthAdjust="spacingAndGlyphs">OF</text>
<rect x="612.20" y="277.10" width="28.40" height="9.40" fill="#C9B9DB" stroke="#2a2a2a" stroke-width="1.1"/>
<text x="649.20" y="285.40" font-size="10.4" text-anchor="start" textLength="15.60" lengthAdjust="spacingAndGlyphs">OH</text>
<rect x="612.20" y="291.20" width="28.40" height="9.30" fill="#FFFEA7" stroke="#2a2a2a" stroke-width="1.1"/>
<text x="649.70" y="299.45" font-size="10.4" text-anchor="start" textLength="10.40" lengthAdjust="spacingAndGlyphs">M</text>
<rect x="612.20" y="304.80" width="28.40" height="9.80" fill="#A8C5F3" stroke="#2a2a2a" stroke-width="1.1"/>
<text x="649.20" y="313.30" font-size="10.4" text-anchor="start" textLength="29.40" lengthAdjust="spacingAndGlyphs">OH-M</text>
<text x="431.00" y="458.80" font-size="10.4" text-anchor="middle">N</text>
<text x="532.50" y="458.80" font-size="10.4" text-anchor="middle" textLength="6.00" lengthAdjust="spacingAndGlyphs">P</text>
<text x="633.70" y="458.80" font-size="10.4" text-anchor="middle" textLength="5.90" lengthAdjust="spacingAndGlyphs">K</text>
<text transform="translate(360.4,344.75) rotate(-90) scale(0.87,1)" font-size="10.4" text-anchor="middle" textLength="196.21" lengthAdjust="spacing">N, P and K content of rapeseed (mg/g)</text>
<text x="348.60" y="242.50" font-size="16.4" text-anchor="start" textLength="8.50" lengthAdjust="spacingAndGlyphs" style="stroke-width:0">d</text>
</g>
</svg></body></html>
